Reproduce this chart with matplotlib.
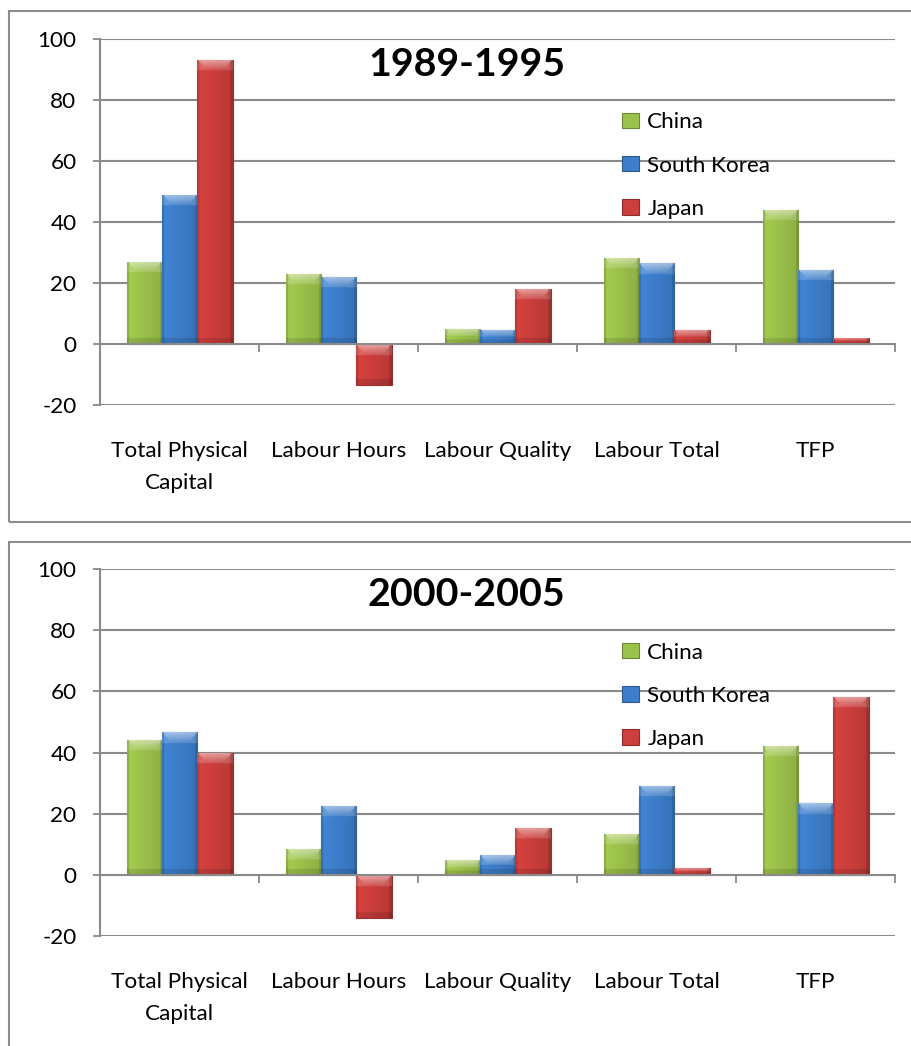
import numpy as np
import matplotlib
matplotlib.use("Agg")
import matplotlib.pyplot as plt
from matplotlib.patches import Rectangle, Patch
from matplotlib.colors import to_rgb
from matplotlib.transforms import blended_transform_factory

# --- data -------------------------------------------------------------
categories = ["Total Physical\nCapital", "Labour Hours", "Labour Quality",
              "Labour Total", "TFP"]
series_names = ["China", "South Korea", "Japan"]
period_titles = ["1989-1995", "2000-2005"]

china_1989 = [27.0, 23.2, 5.2, 28.4, 44.1]
korea_1989 = [49.0, 22.0, 4.6, 26.5, 24.5]
japan_1989 = [93.1, -13.4, 18.3, 4.6, 2.0]

china_2000 = [44.2, 8.5, 4.9, 13.4, 42.2]
korea_2000 = [46.7, 22.6, 6.5, 29.1, 23.5]
japan_2000 = [40.0, -14.0, 15.4, 2.3, 58.2]

y_ticks = [-20, 0, 20, 40, 60, 80, 100]
series_colors = ["#9cc24b", "#3d7ecb", "#cc3f3c"]

# --- style ------------------------------------------------------------
FONT = "Lato"
GRID = "#8a8a8a"
LABEL_SIZE = 16.2
plt.rcParams["font.family"] = [FONT, "DejaVu Sans"]

fig = plt.figure(figsize=(9.11, 10.46), dpi=100)


def mix(c, other, t):
    return c * (1 - t) + np.asarray(other) * t


def bevel(ax, rect, rgb):
    """Overlay a light top bevel and side shading on a bar rectangle."""
    x0, w = rect.get_x(), rect.get_width()
    y, h = rect.get_y(), rect.get_height()
    ylo, yhi = min(y, y + h), max(y, y + h)
    p0 = ax.transData.transform((x0, ylo))
    p1 = ax.transData.transform((x0 + w, yhi))
    wpx, hpx = p1[0] - p0[0], p1[1] - p0[1]
    nx = 80
    ny = max(int(hpx * 2), 6)
    X = (np.arange(nx) + 0.5) / nx * wpx
    DT = (np.arange(ny) + 0.5) / ny * hpx
    Xg, Tg = np.meshgrid(X, DT)
    Bg = hpx - Tg
    U = Xg / wpx
    base = np.asarray(rgb)
    img = np.empty((ny, nx, 3))
    lum = 1.06 - 0.16 * U
    img[:] = base[None, None, :]
    img *= lum[..., None]
    band = min(11.0, hpx * 0.5)
    # top bevel: bright trapezoid with lighter corners
    top = Tg < band
    inside = (Xg > Tg * 0.9) & (Xg < wpx - Tg * 0.9)
    amt = np.where(inside, 0.42 * (1 - Tg / max(band, 1e-6)) + 0.12, 0.18)
    amt = np.where(top, amt, 0.0)
    img = img * (1 - amt[..., None]) + amt[..., None] * 1.0
    # bottom bevel: slightly darker strip
    bot = (Bg < min(6.0, hpx * 0.3)) & ~top
    img = np.where(bot[..., None], img * 0.88, img)
    # darker side edges
    edge = (Xg < 2.0) | (Xg > wpx - 2.5)
    img = np.where(edge[..., None], img * 0.85, img)
    img = np.clip(img, 0, 1)
    im = ax.imshow(img, extent=(x0, x0 + w, ylo, yhi), origin="upper",
                   aspect="auto", interpolation="bilinear", zorder=2.1)
    im.set_clip_path(rect)


def draw_panel(ax, title, values):
    ax.set_xlim(-0.5, len(categories) - 0.5)
    ax.set_ylim(-20, 100)
    ax.set_yticks(y_ticks)
    ax.set_yticklabels([str(t) for t in y_ticks])
    for t in y_ticks:
        if t != 0:
            ax.axhline(t, color=GRID, lw=1.5, zorder=0.5)
    for s in ("top", "right"):
        ax.spines[s].set_visible(False)
    ax.spines["left"].set_color(GRID)
    ax.spines["left"].set_linewidth(1.5)
    ax.spines["bottom"].set_position(("data", 0))
    ax.spines["bottom"].set_color(GRID)
    ax.spines["bottom"].set_linewidth(1.5)
    ax.spines["bottom"].set_zorder(3)
    ax.set_xticks(np.arange(-0.5, len(categories) + 0.5, 1.0))
    ax.set_xticklabels([])
    ax.tick_params(axis="x", direction="out", length=6, width=1.3,
                   color=GRID)
    ax.tick_params(axis="y", direction="out", length=5, width=1.3,
                   color=GRID, pad=12, labelsize=LABEL_SIZE)
    ax.autoscale(False)

    n = len(series_names)
    width = 1.0 / (n + 1.5)
    xs = np.arange(len(categories))
    for i, (name, vals, col) in enumerate(zip(series_names, values,
                                                series_colors)):
        rgb = np.asarray(to_rgb(col))
        bars = ax.bar(xs + (i - 1) * width, vals, width,
                      color=col, edgecolor=mix(rgb, (0, 0, 0), 0.25),
                      linewidth=0.8, zorder=2, label=name)
        for r in bars:
            bevel(ax, r, rgb)

    trans = blended_transform_factory(ax.transData, ax.transAxes)
    for i, lab in enumerate(categories):
        ax.text(i, -0.097, lab, transform=trans, ha="center", va="top",
                fontsize=LABEL_SIZE, linespacing=1.75)

    ax.text(0.461, 0.931, title, transform=ax.transAxes, ha="center",
            va="center", fontsize=28.4, fontweight="bold")

    handles = [Patch(facecolor=c, edgecolor=mix(np.asarray(to_rgb(c)),
                                                (0, 0, 0), 0.3),
                     linewidth=0.8) for c in series_colors]
    ax.legend(handles, series_names, loc="upper left",
              bbox_to_anchor=(0.657, 0.7995), frameon=False,
              fontsize=LABEL_SIZE, handlelength=0.75, handleheight=0.67,
              handletextpad=0.36, labelspacing=1.03, borderpad=0,
              borderaxespad=0)


ax1 = fig.add_axes([0.10977, 0.61234, 0.87267, 0.35038])
ax2 = fig.add_axes([0.10977, 0.10495, 0.87267, 0.35106])
draw_panel(ax1, period_titles[0], [china_1989, korea_1989, japan_1989])
draw_panel(ax2, period_titles[1], [china_2000, korea_2000, japan_2000])

# chart-area frames
fig.add_artist(Rectangle((0.00988, 0.50096), 1.2, 0.48853,
                         transform=fig.transFigure, fill=False,
                         edgecolor="#8c8c8c", linewidth=1.5))
fig.add_artist(Rectangle((0.00988, -0.1), 1.2, 0.58184,
                         transform=fig.transFigure, fill=False,
                         edgecolor="#8c8c8c", linewidth=1.5))

fig.savefig("out.png", dpi=100)
